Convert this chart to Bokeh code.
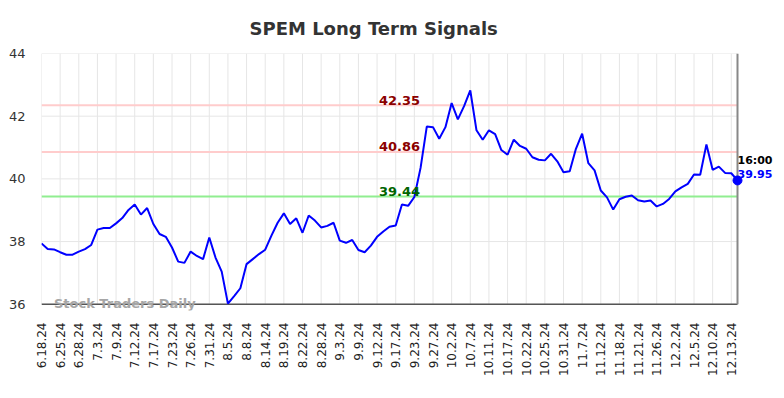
import math
from bokeh.plotting import figure
from bokeh.models import Range1d, FixedTicker, Label
from bokeh.embed import file_html
from bokeh.resources import INLINE

# Tick labels (one every third trading session)
dates = ["6.18.24", "6.25.24", "6.28.24", "7.3.24", "7.9.24", "7.12.24", "7.17.24",
         "7.23.24", "7.26.24", "7.31.24", "8.5.24", "8.8.24", "8.14.24", "8.19.24",
         "8.22.24", "8.28.24", "9.3.24", "9.9.24", "9.12.24", "9.17.24", "9.23.24",
         "9.27.24", "10.2.24", "10.7.24", "10.11.24", "10.17.24", "10.22.24",
         "10.25.24", "10.31.24", "11.7.24", "11.12.24", "11.18.24", "11.21.24",
         "11.26.24", "12.2.24", "12.5.24", "12.10.24", "12.13.24"]

# Closing prices, one per session
prices = [37.94, 37.76, 37.75, 37.66, 37.58, 37.58, 37.68, 37.76, 37.89, 38.38,
          38.43, 38.43, 38.58, 38.75, 39.01, 39.18, 38.86, 39.07, 38.56, 38.24,
          38.15, 37.81, 37.36, 37.32, 37.68, 37.54, 37.44, 38.13, 37.49, 37.04,
          36.02, 36.26, 36.51, 37.28, 37.44, 37.60, 37.74, 38.19, 38.60, 38.90,
          38.56, 38.74, 38.28, 38.83, 38.67, 38.45, 38.50, 38.60, 38.03, 37.96,
          38.05, 37.73, 37.66, 37.87, 38.15, 38.32, 38.47, 38.51, 39.18, 39.14,
          39.42, 40.35, 41.67, 41.65, 41.28, 41.65, 42.42, 41.90, 42.32, 42.82,
          41.55, 41.25, 41.55, 41.43, 40.92, 40.77, 41.25, 41.05, 40.96, 40.69,
          40.61, 40.59, 40.80, 40.56, 40.21, 40.24, 40.96, 41.44, 40.50, 40.27,
          39.63, 39.41, 39.02, 39.35, 39.43, 39.47, 39.32, 39.28, 39.31, 39.12,
          39.20, 39.36, 39.60, 39.73, 39.84, 40.14, 40.13, 41.10, 40.29, 40.39,
          40.19, 40.18, 39.95]

# Signal levels
resistance_levels = [42.35, 40.86]
support_levels = [39.44]
y_ticks = [36, 38, 40, 42, 44]
last_time = "16:00"

FONT = "DejaVu Sans"
x = list(range(len(prices)))
tick_idx = list(range(0, 3 * len(dates), 3))
last_x = x[-1]
y_lo, y_hi = y_ticks[0], y_ticks[-1]

# layout (pixels)
W, H = 784, 398
LEFT, TOP = 41, 53
DATA_W = 696          # width used by the price series
FRAME_W = 734         # frame extends right to leave room for the last-value labels
PX_PER_UNIT_Y = 31.25
BOTTOM_PAD = 6.25     # extra room under the axis for the watermark
FRAME_H = (y_hi - y_lo) * PX_PER_UNIT_Y + BOTTOM_PAD

x_end = last_x * FRAME_W / DATA_W
y_start = y_lo - BOTTOM_PAD / PX_PER_UNIT_Y

p = figure(width=W, height=H, output_backend="svg", toolbar_location=None,
           x_range=Range1d(0, x_end), y_range=Range1d(y_start, y_hi),
           min_border_left=LEFT, min_border_right=W - LEFT - FRAME_W,
           min_border_top=TOP, min_border_bottom=int(H - TOP - FRAME_H),
           title="SPEM Long Term Signals")

p.outline_line_color = None
p.title.align = "left"
p.title.offset = 208
p.title.text_font = FONT
p.title.text_font_size = "18px"
p.title.text_color = "#333333"
p.title.standoff = 29

# Axes
p.xaxis.ticker = FixedTicker(ticks=tick_idx)
p.xaxis.major_label_overrides = {i: d for i, d in zip(tick_idx, dates)}
p.xaxis.major_label_orientation = math.pi / 2
p.xaxis.major_label_text_font = FONT
p.xaxis.major_label_text_font_size = "12px"
p.xaxis.major_label_text_color = "#222222"
p.xaxis.major_tick_out = 0
p.xaxis.major_tick_in = 0
p.xaxis.minor_tick_out = 0
p.xaxis.minor_tick_in = 0
p.xaxis.major_label_standoff = 12
p.xaxis.axis_line_color = None

p.yaxis.ticker = FixedTicker(ticks=y_ticks)
p.yaxis.major_label_text_font = FONT
p.yaxis.major_label_text_font_size = "13px"
p.yaxis.major_label_text_color = "#333333"
p.yaxis.major_tick_out = 0
p.yaxis.major_tick_in = 0
p.yaxis.minor_tick_out = 0
p.yaxis.minor_tick_in = 0
p.yaxis.major_label_standoff = 16
p.yaxis.axis_line_color = None

p.xgrid.grid_line_color = None
p.ygrid.grid_line_color = None

# Grid drawn only over the data area
p.segment(x0=tick_idx, x1=tick_idx, y0=[y_lo] * len(tick_idx), y1=[y_hi] * len(tick_idx),
          line_color="#e6e6e6", line_width=1)
p.segment(x0=[0] * len(y_ticks), x1=[last_x] * len(y_ticks), y0=y_ticks, y1=y_ticks,
          line_color="#e6e6e6", line_width=1)

# Watermark
p.add_layout(Label(x=2, y=y_lo, text="Stock Traders Daily", text_align="left",
                   text_baseline="middle", y_offset=1, text_font=FONT,
                   text_font_size="13px", text_font_style="bold", text_color="#a6a6a6"))

# Signal lines
label_x = 57.6
for lvls, lc, tc in ((resistance_levels, "#ffcccc", "#8b0000"),
                     (support_levels, "#90ee90", "#006400")):
    p.segment(x0=[0] * len(lvls), x1=[last_x] * len(lvls), y0=lvls, y1=lvls,
              line_color=lc, line_width=2)
    for lvl in lvls:
        p.add_layout(Label(x=label_x, y=lvl, text=f"{lvl:.2f}", text_align="center",
                           text_baseline="alphabetic", y_offset=5, text_font=FONT,
                           text_font_size="13px", text_font_style="bold", text_color=tc))

# Bottom axis line and right edge marker
p.segment(x0=[0], x1=[last_x], y0=[y_lo], y1=[y_lo], line_color="#555555", line_width=1.5)
p.segment(x0=[last_x], x1=[last_x], y0=[y_lo], y1=[y_hi], line_color="#888888", line_width=2)

# Price line
p.line(x, prices, line_color="#0000ff", line_width=2)
p.scatter([last_x], [prices[-1]], size=9, fill_color="#0000ff", line_color="#0000ff")

p.add_layout(Label(x=last_x, y=prices[-1], text=last_time, text_align="left",
                   text_baseline="alphabetic", y_offset=20, text_font=FONT,
                   text_font_size="11px", text_font_style="bold", text_color="#000000"))
p.add_layout(Label(x=last_x, y=prices[-1], text=f"{prices[-1]:.2f}", text_align="left",
                   text_baseline="alphabetic", y_offset=6.5, text_font=FONT,
                   text_font_size="11px", text_font_style="bold", text_color="#0000ff"))

open("out.html", "w").write(file_html(p, INLINE))
